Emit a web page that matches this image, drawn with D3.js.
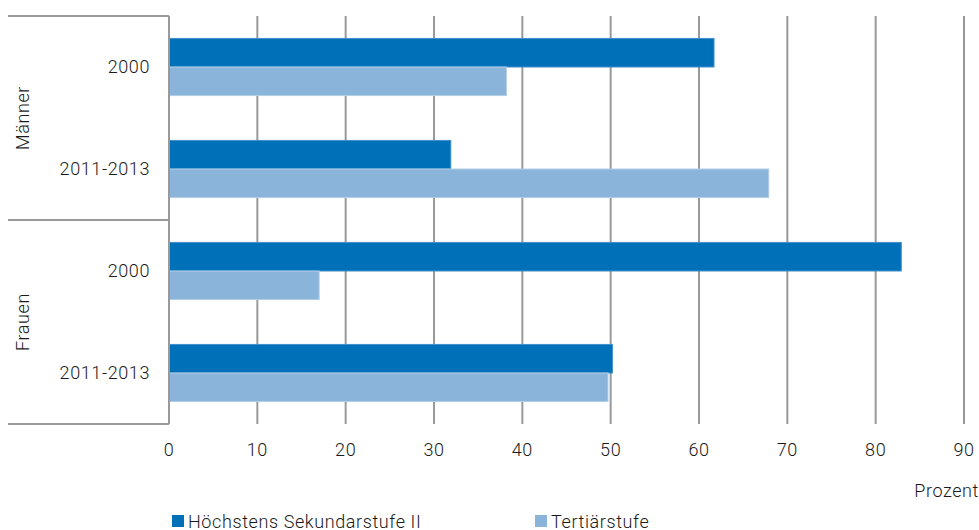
<!DOCTYPE html>
<html>
<head>
<meta charset="utf-8">
<script src="https://d3js.org/d3.v7.min.js"></script>
<style>
  body { margin: 0; background: #fff; }
  text { font-family: Roboto, "Liberation Sans", sans-serif; font-weight: 300; fill: #1a1a1a; letter-spacing: 0.6px; }
</style>
</head>
<body>
<div id="chart"></div>
<script>
// Data
var groups = ["Männer", "Frauen"];
var periods = ["2000", "2011-2013"];
var series = ["Höchstens Sekundarstufe II", "Tertiärstufe"];
var sekundarValues = [61.7, 31.9, 82.9, 50.2];
var tertiaerValues = [38.2, 67.9, 17.0, 49.7];
var xTicks = [0, 10, 20, 30, 40, 50, 60, 70, 80, 90];
var colors = ["#0070b9", "#8ab4d9"];

var width = 979, height = 530;
var plotLeft = 169, plotRight = 964, plotTop = 16, plotBottom = 424;

var svg = d3.select("#chart").append("svg")
  .attr("width", width)
  .attr("height", height);

// rows: each group x period
var rows = [];
groups.forEach(function(g, gi) {
  periods.forEach(function(p, pi) {
    rows.push({ key: g + "|" + p, group: g, period: p, idx: gi * 2 + pi });
  });
});

var xScale = d3.scaleLinear().domain([0, 90]).range([plotLeft, plotRight]);
var yScale = d3.scaleBand().domain(rows.map(function(d) { return d.key; }))
  .range([plotTop, plotBottom]).paddingInner(0.44).paddingOuter(0.22);
var ySub = d3.scaleBand().domain([0, 1]).range([0, yScale.bandwidth()]);

// grid lines
svg.append("g")
  .selectAll("line")
  .data(xTicks.slice(1))
  .enter().append("line")
  .attr("x1", function(d) { return xScale(d); })
  .attr("x2", function(d) { return xScale(d); })
  .attr("y1", plotTop)
  .attr("y2", plotBottom)
  .attr("stroke", "#999")
  .attr("stroke-width", 2);

// bars
var bars = svg.append("g");
rows.forEach(function(r) {
  [sekundarValues[r.idx], tertiaerValues[r.idx]].forEach(function(v, si) {
    bars.append("rect")
      .attr("x", xScale(0))
      .attr("y", yScale(r.key) + ySub(si))
      .attr("width", xScale(v) - xScale(0))
      .attr("height", ySub.bandwidth())
      .attr("fill", colors[si])
      .attr("stroke", si === 0 ? "#3f8fcb" : "#b3cfe8")
      .attr("stroke-width", 1);
  });
});

// left axis line and group separators
svg.append("line")
  .attr("x1", plotLeft).attr("x2", plotLeft)
  .attr("y1", plotTop).attr("y2", plotBottom)
  .attr("stroke", "#999").attr("stroke-width", 2);

var seps = [plotTop, (plotTop + plotBottom) / 2, plotBottom];
svg.append("g").selectAll("line")
  .data(seps)
  .enter().append("line")
  .attr("x1", 8).attr("x2", plotLeft)
  .attr("y1", function(d) { return d; })
  .attr("y2", function(d) { return d; })
  .attr("stroke", "#999").attr("stroke-width", 2);

// period labels
svg.append("g").selectAll("text")
  .data(rows)
  .enter().append("text")
  .attr("x", 150)
  .attr("y", function(d) { return yScale(d.key) + yScale.bandwidth() / 2 + 6; })
  .attr("text-anchor", "end")
  .style("font-size", "18px")
  .text(function(d) { return d.period; });

// group labels
groups.forEach(function(g, gi) {
  var yc = plotTop + (plotBottom - plotTop) / 4 * (gi * 2 + 1);
  svg.append("text")
    .attr("transform", "translate(29," + yc + ") rotate(-90)")
    .attr("text-anchor", "middle")
    .style("font-size", "18px")
    .text(g);
});

// x tick labels
svg.append("g").selectAll("text")
  .data(xTicks)
  .enter().append("text")
  .attr("x", function(d) { return xScale(d); })
  .attr("y", 456)
  .attr("text-anchor", "middle")
  .style("font-size", "18px")
  .text(function(d) { return d; });

svg.append("text")
  .attr("x", 979)
  .attr("y", 497)
  .attr("text-anchor", "end")
  .style("font-size", "18px")
  .text("Prozent");

// legend
var legendX = [172, 535];
series.forEach(function(s, i) {
  svg.append("rect")
    .attr("x", legendX[i]).attr("y", 515)
    .attr("width", 12).attr("height", 12)
    .attr("fill", colors[i]);
  svg.append("text")
    .attr("x", legendX[i] + 16)
    .attr("y", 528)
    .style("font-size", "18px")
    .text(s);
});
</script>
</body>
</html>
